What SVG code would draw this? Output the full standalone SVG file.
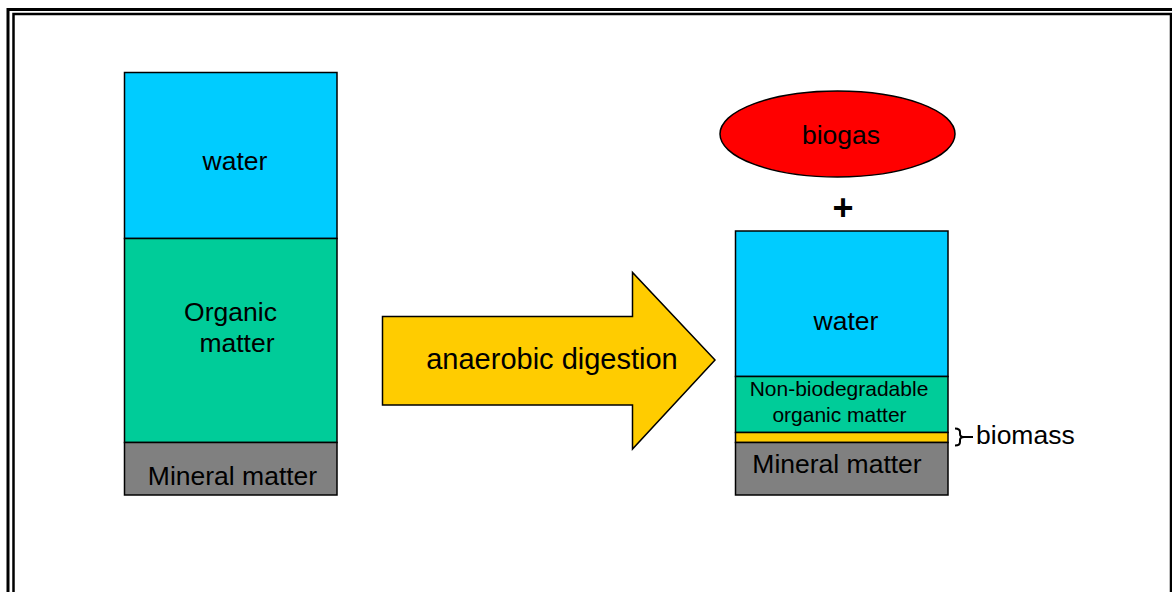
<svg xmlns="http://www.w3.org/2000/svg" width="1172" height="592" viewBox="0 0 1172 592">
<style>
text{font-family:"Liberation Sans",Arial,sans-serif;fill:#000}
.lay{stroke:#000;stroke-width:1.5}
.water{fill:#00CCFF}
.org{fill:#00CC99}
.min{fill:#808080}
.bio{fill:#FFCC00}
.c{text-anchor:middle}
.f{font-size:26.5px}
</style>
<rect x="0" y="0" width="1172" height="592" fill="#fff"/>
<g id="frame" fill="none" stroke="#000">
<rect x="8" y="9.5" width="1180" height="600" stroke-width="3"/>
<rect x="13.5" y="14" width="1157.5" height="600" stroke-width="2.5"/>
</g>
<g id="before">
<rect class="lay water" x="124.5" y="72.5" width="212.5" height="166"/>
<rect class="lay org" x="124.5" y="238.5" width="212.5" height="204"/>
<rect class="lay min" x="124.5" y="442.5" width="212.5" height="52.5"/>
<text class="c f" x="235" y="170">water</text>
<text class="c f" x="230.5" y="320.5">Organic</text>
<text class="c f" x="237" y="352">matter</text>
<text class="c f" x="232.5" y="485">Mineral matter</text>
</g>
<g id="arrow">
<polygon points="382.5,316.5 632.5,316.5 632.5,272.5 715,360 632.5,449 632.5,405 382.5,405" fill="#FFCC00" stroke="#000" stroke-width="1.5" stroke-linejoin="miter"/>
<text class="c" x="552" y="368.5" font-size="29">anaerobic digestion</text>
</g>
<g id="biogas">
<ellipse cx="837.5" cy="134" rx="117.5" ry="43" fill="#FF0000" stroke="#000" stroke-width="1.5"/>
<text class="c f" x="841" y="143.5">biogas</text>
</g>
<g id="plus">
<text class="c" x="843" y="220" font-size="36" font-weight="bold">+</text>
</g>
<g id="after">
<rect class="lay water" x="735.5" y="231" width="212.5" height="145.5"/>
<rect class="lay org" x="735.5" y="376.5" width="212.5" height="56"/>
<rect class="lay bio" x="735.5" y="432.5" width="212.5" height="10"/>
<rect class="lay min" x="735.5" y="442.5" width="212.5" height="52.5"/>
<text class="c f" x="846" y="330">water</text>
<text class="c" x="839" y="396" font-size="21">Non-biodegradable</text>
<text class="c" x="839.5" y="421.5" font-size="21">organic matter</text>
<text class="c f" x="837" y="473">Mineral matter</text>
</g>
<g id="biomass">
<path d="M955,428.5 Q960,428.5 960,432 L960,434 Q960,437 964,437 Q960,437 960,440 L960,442 Q960,445.5 955,445.5 M964,437 L973,437" fill="none" stroke="#000" stroke-width="2"/>
<text class="f" x="976" y="444">biomass</text>
</g>
</svg>
